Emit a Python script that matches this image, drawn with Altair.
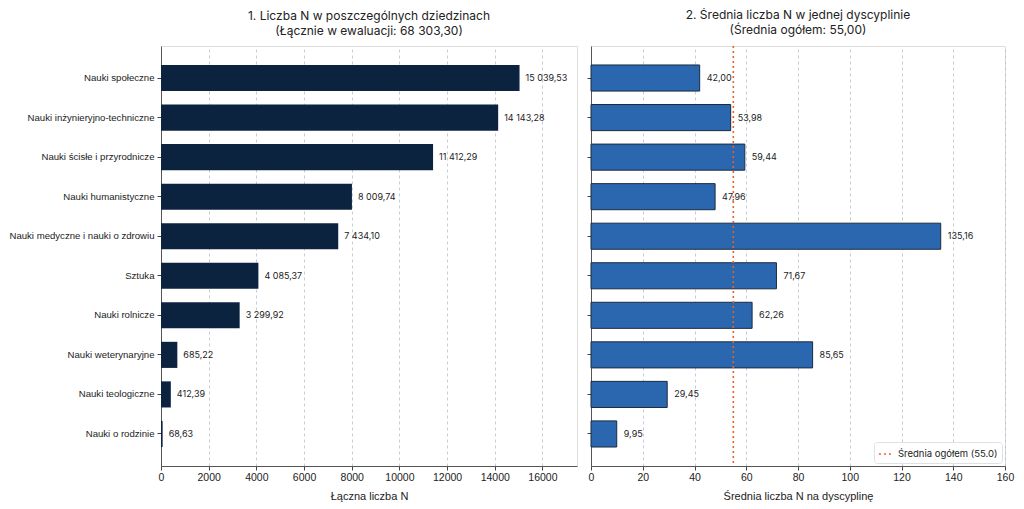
import altair as alt
import pandas as pd

categories = [
    "Nauki społeczne",
    "Nauki inżynieryjno-techniczne",
    "Nauki ścisłe i przyrodnicze",
    "Nauki humanistyczne",
    "Nauki medyczne i nauki o zdrowiu",
    "Sztuka",
    "Nauki rolnicze",
    "Nauki weterynaryjne",
    "Nauki teologiczne",
    "Nauki o rodzinie",
]
totals = [15039.53, 14143.28, 11412.29, 8009.74, 7434.10, 4085.37, 3299.92, 685.22, 412.39, 68.63]
means = [42.00, 53.98, 59.44, 47.96, 135.16, 71.67, 62.26, 85.65, 29.45, 9.95]
overall_mean = 55.0
left_ticks = [0, 2000, 4000, 6000, 8000, 10000, 12000, 14000, 16000]
right_ticks = [0, 20, 40, 60, 80, 100, 120, 140, 160]


def pl(v):
    return f"{v:,.2f}".replace(",", " ").replace(".", ",")


df = pd.DataFrame({
    "cat": categories,
    "total": totals,
    "mean": means,
    "tl": [pl(v) for v in totals],
    "ml": [pl(v) for v in means],
})

FONT = "Inter"
GRID = "#b5bfce"

yscale = alt.Scale(paddingInner=0.34, paddingOuter=0.48)


def xaxis(title, values):
    return alt.Axis(
        values=values, format="d", title=title, grid=True, gridDash=[3, 3], gridColor=GRID,
        gridWidth=0.8, labelFontSize=10.5, labelColor="#222", titleFontSize=11,
        titleFontWeight="normal", titleColor="#222", titlePadding=8,
        tickColor="#444", tickSize=4, domainColor="#555", labelFlush=False,
    )


left_y = alt.Y("cat:N", sort=categories, title=None, scale=yscale,
               axis=alt.Axis(labelFontSize=9.6, labelColor="#222", tickSize=4,
                             tickColor="#444", domainColor="#555", labelPadding=3,
                             labelLimit=300))
right_y = alt.Y("cat:N", sort=categories, title=None, scale=yscale,
                axis=alt.Axis(labels=False, tickSize=4, tickColor="#444",
                              domainColor="#555"))

left_bars = alt.Chart(df).mark_bar(color="#0c2340").encode(
    x=alt.X("total:Q", scale=alt.Scale(domain=[0, 17450], nice=False),
            axis=xaxis("Łączna liczba N", left_ticks)),
    y=left_y,
)
left_text = alt.Chart(df).mark_text(align="left", dx=6, fontSize=9, color="#222", font=FONT).encode(
    x="total:Q", y=alt.Y("cat:N", sort=categories), text="tl:N")

left = alt.layer(left_bars, left_text).properties(
    width=416, height=420,
    title=alt.TitleParams(
        ["1. Liczba N w poszczególnych dziedzinach", "(Łącznie w ewaluacji: 68 303,30)"],
        fontSize=12, fontWeight="normal", color="#222", anchor="middle", offset=8,
        font=FONT, lineHeight=15,
    ),
)

right_bars = alt.Chart(df).mark_bar(color="#2a67ae", stroke="#1b2b40", strokeWidth=1).encode(
    x=alt.X("mean:Q", scale=alt.Scale(domain=[0, 160], nice=False),
            axis=xaxis("Średnia liczba N na dyscyplinę", right_ticks)),
    y=right_y,
)
right_text = alt.Chart(df).mark_text(align="left", dx=7, fontSize=9, color="#222", font=FONT).encode(
    x="mean:Q", y=alt.Y("cat:N", sort=categories), text="ml:N")

mean_df = pd.DataFrame({"m": [overall_mean], "lab": ["Średnia ogółem (55.0)"]})
rule = alt.Chart(mean_df).mark_rule(strokeDash=[2, 3], strokeWidth=1.6).encode(
    x="m:Q",
    color=alt.Color("lab:N", scale=alt.Scale(range=["#e8622c"]),
                    legend=alt.Legend(title=None, orient="bottom-right", fillColor="white",
                                      strokeColor="#dde1e8", padding=4, cornerRadius=3,
                                      symbolType="stroke", symbolDash=[2, 3],
                                      symbolStrokeWidth=1.6, symbolSize=200,
                                      labelFontSize=9.5, labelColor="#222", offset=3,
                                      labelFont=FONT)),
)

right = alt.layer(right_bars, right_text, rule).properties(
    width=414, height=420,
    title=alt.TitleParams(
        ["2. Średnia liczba N w jednej dyscyplinie", "(Średnia ogółem: 55,00)"],
        fontSize=12, fontWeight="normal", color="#222", anchor="middle", offset=8,
        font=FONT, lineHeight=15,
    ),
)

chart = alt.hconcat(left, right, spacing=8).resolve_legend(color="independent").properties(
    padding={"left": 0, "top": 0, "right": 0, "bottom": 0}
).configure_view(stroke=None).configure_axis(
    labelFont=FONT, titleFont=FONT
).configure(background="white")

chart.save("out.html", embed_options={"renderer": "svg", "actions": False})
